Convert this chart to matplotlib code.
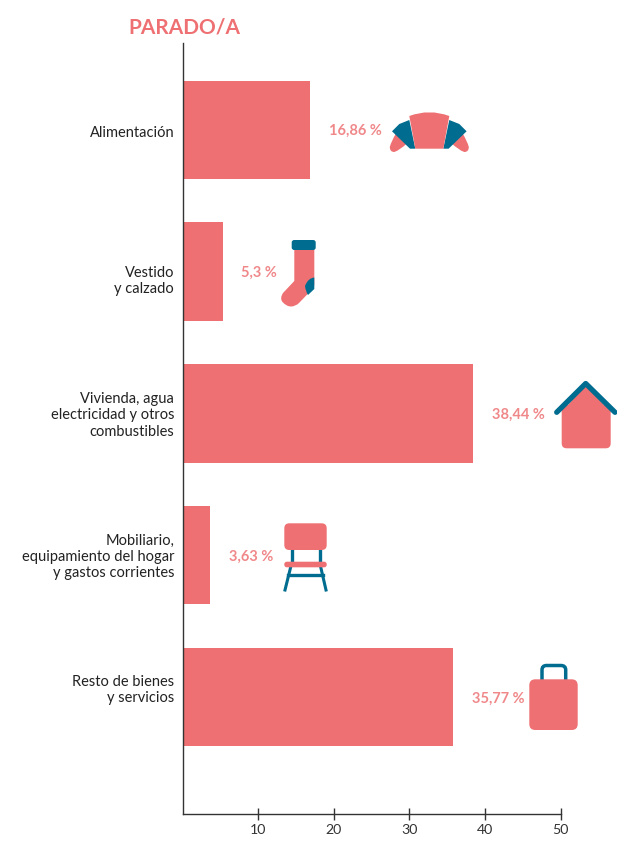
import matplotlib
matplotlib.use('Agg')
import matplotlib.pyplot as plt
from matplotlib.patches import FancyBboxPatch, Polygon, PathPatch
from matplotlib.path import Path

plt.rcParams['font.family'] = ['Lato', 'DejaVu Sans']

categories = ['Alimentación', 'Vestido\ny calzado', 'Vivienda, agua\nelectricidad y otros\ncombustibles',
              'Mobiliario,\nequipamiento del hogar\ny gastos corrientes', 'Resto de bienes\ny servicios']
values = [16.86, 5.3, 38.44, 3.63, 35.77]
value_labels = ['16,86 %', '5,3 %', '38,44 %', '3,63 %', '35,77 %']
xticks = [10, 20, 30, 40, 50]

W, H = 617, 841
pink = '#EE7072'
teal = '#006C8F'
dark = '#333333'

fig = plt.figure(figsize=(W / 100, H / 100), dpi=100)

# main axes placed so the scale lands on the same pixels as the reference
ax = fig.add_axes([182.5 / W, 1 - 814 / H, (W - 182.5) / W, (814 - 43) / H])
ax.barh(range(len(values)), values, height=0.695, color=pink)
ax.set_xlim(0, (W - 182.5) / 7.565)
ax.set_ylim(4.826, -0.613)
for s in ['top', 'right']:
    ax.spines[s].set_visible(False)
for s in ['left', 'bottom']:
    ax.spines[s].set_linewidth(1.0)
    ax.spines[s].set_color(dark)
ax.spines['bottom'].set_bounds(0, 50)
ax.patch.set_alpha(0)
ax.set_yticks([])
ax.set_xticks(xticks)
ax.tick_params(axis='x', direction='inout', length=8.6, width=1.0, color=dark,
               labelsize=10.2, labelcolor=dark, pad=3)

# the two line labels sit a little off the bar centre in the original
label_shift = [-2, -7, -1.5, -1.5, 5]
for i, cat in enumerate(categories):
    ax.annotate(cat, (0, i), xytext=(-6, label_shift[i]), textcoords='offset points',
                ha='right', va='center', fontsize=10.5, color='#222222', linespacing=1.2)
for i, lab in enumerate(value_labels):
    ax.annotate(lab, (values[i], i), xytext=(13.5, -1), textcoords='offset points',
                ha='left', va='center', fontsize=10.5, color='#F0888A', fontweight='bold')

fig.text(128 / W, 1 - 27 / H, 'PARADO/A', fontsize=15, fontweight='bold', color=pink,
         ha='left', va='center')

# overlay in pixel coordinates for the icons
ic = fig.add_axes([0, 0, 1, 1])
ic.set_xlim(0, W)
ic.set_ylim(H, 0)
ic.axis('off')


def rbox(x0, y0, x1, y1, r, color, z=2):
    ic.add_patch(FancyBboxPatch((x0 + r, y0 + r), x1 - x0 - 2 * r, y1 - y0 - 2 * r,
                                boxstyle='round,pad=%f,rounding_size=%f' % (r, r),
                                fc=color, ec='none', zorder=z))


def shape(pts, codes, color, z=2):
    ic.add_patch(PathPatch(Path(pts, codes), fc=color, ec='none', zorder=z))


M, L, C, Z = Path.MOVETO, Path.LINETO, Path.CURVE3, Path.CLOSEPOLY

# croissant
cx = 429.3
for sgn in [-1, 1]:
    shape([(cx + sgn * 33, 133), (cx + sgn * 38, 141), (cx + sgn * 39.5, 147),
           (cx + sgn * 39.5, 152), (cx + sgn * 35, 152),
           (cx + sgn * 29, 150), (cx + sgn * 22, 143), (cx + sgn * 33, 133)],
          [M, C, C, C, C, C, C, Z], pink, 2)
    ic.add_patch(Polygon([(cx + sgn * 37.3, 131.3), (cx + sgn * 30, 124), (cx + sgn * 20, 120),
                          (cx + sgn * 14, 148.7), (cx + sgn * 19.3, 148.7)], fc=teal, ec='none', zorder=3))
shape([(cx - 20, 116), (cx, 108.5), (cx + 20, 116), (cx + 14, 148.7), (cx - 14, 148.7), (cx - 20, 116)],
      [M, C, C, L, L, Z], pink, 4)

# sock
shape([(294.3, 248), (314.3, 248), (314.3, 284), (314.3, 287), (312, 289.5), (299, 303),
       (295.5, 306.5), (291, 306.5), (286.5, 306.5), (282.5, 302), (279.5, 298.5), (283, 293), (294.3, 281),
       (294.3, 248)],
      [M, L, L, C, C, L, C, C, C, C, C, C, L, Z], pink, 2)
shape([(314.3, 277.5), (308, 278), (305, 286), (305.5, 291), (308, 295), (314.3, 289), (314.3, 277.5)],
      [M, C, C, C, C, L, Z], teal, 3)
rbox(291.7, 240, 315.7, 250, 2.5, teal, 4)

# house
rbox(561.7, 405, 610.7, 448.3, 5, pink)
ic.add_patch(Polygon([(561.7, 412), (585.7, 385), (610.7, 412)], fc=pink, ec='none', zorder=2))
ic.plot([556.7, 585.7, 615], [412.3, 383.5, 412.3], color=teal, lw=3.8, solid_capstyle='round',
        solid_joinstyle='round', zorder=3)

# chair
for x in [291.7, 320]:
    ic.plot([x, x], [549, 562], color=teal, lw=2.4, zorder=1)
ic.plot([290.7, 285], [567, 590], color=teal, lw=2.2, zorder=1)
ic.plot([320.7, 326], [567, 590], color=teal, lw=2.2, zorder=1)
ic.plot([288, 323], [575, 575], color=teal, lw=2.4, zorder=1)
rbox(284.3, 523.3, 326.7, 550, 5, pink)
rbox(284.3, 561.7, 326.7, 567.3, 2.5, pink)

# suitcase handle, then body over it
handle = Path([(542, 682), (542, 670), (542, 665.5), (546.5, 665.5), (561, 665.5), (565.7, 665.5), (565.7, 670), (565.7, 682)],
              [M, L, C, C, L, C, C, L])
ic.add_patch(PathPatch(handle, fc='none', ec=teal, lw=2.5, zorder=1))
rbox(529.3, 679.3, 577.7, 730, 6, pink)

fig.savefig('out.png', dpi=100)
